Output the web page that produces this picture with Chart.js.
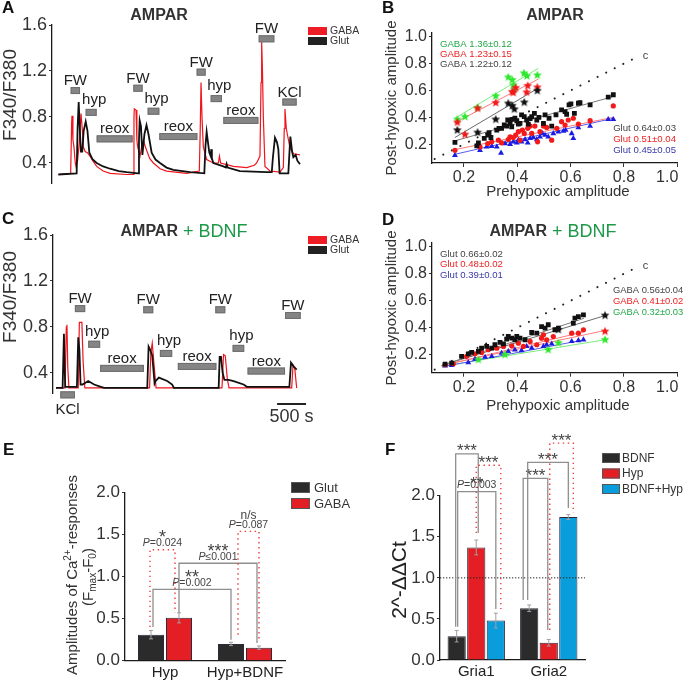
<!DOCTYPE html>
<html>
<head>
<meta charset="utf-8">
<title>AMPAR calcium responses</title>
<script src="https://cdn.jsdelivr.net/npm/chart.js"></script>
<style>
  body { margin: 0; background: #fff; }
  #fig { position: relative; width: 685px; height: 681px; overflow: hidden; }
  #fig canvas { position: absolute; }
</style>
</head>
<body>
<div id="fig">
  <canvas id="chartB" width="340" height="200" style="left:345px;top:0"></canvas>
  <canvas id="chartD" width="340" height="220" style="left:345px;top:200px"></canvas>
  <canvas id="chartF" width="340" height="251" style="left:345px;top:430px"></canvas>
  <canvas id="chartA" width="365" height="200" style="left:0;top:0"></canvas>
  <canvas id="chartC" width="365" height="230" style="left:0;top:200px"></canvas>
  <canvas id="chartE" width="365" height="251" style="left:0;top:430px"></canvas>
</div>
<script>
const FONT = "'Liberation Sans', Arial, Helvetica, sans-serif";
Chart.defaults.font.family = FONT;
Chart.defaults.color = '#333';

// ---------- A / C : Fura-2 traces, [time (s), F340/F380] ----------
const T_MAX = 4300;
const TRACE_TICKS = [0.4, 0.8, 1.2, 1.6];
const A_GLUT = [[109,0.30],[424,0.31],[440,0.70],[459,0.93],[478,0.70],[497,0.50],[520,0.50],[545,0.68],[580,0.76],[610,0.68],[642,0.49],[700,0.43],[768,0.40],[880,0.37],[998,0.35],[1150,0.33],[1284,0.32],[1480,0.31],[1496,0.60],[1508,0.77],[1530,0.72],[1555,0.47],[1590,0.65],[1625,0.73],[1660,0.65],[1714,0.49],[1780,0.43],[1858,0.40],[1970,0.36],[2087,0.34],[2374,0.32],[2620,0.31],[2640,0.55],[2660,0.67],[2690,0.55],[2706,0.49],[2730,0.46],[2740,0.52],[2750,0.44],[2775,0.40],[2947,0.37],[2990,0.36],[3004,0.39],[3020,0.36],[3233,0.33],[3692,0.32],[3780,0.32],[3800,0.45],[3835,0.62],[3870,0.58],[3893,0.52],[3915,0.31],[4065,0.31],[4085,0.50],[4100,0.63],[4130,0.50],[4151,0.45],[4191,0.47],[4220,0.42],[4265,0.39]];
const A_GABA = [[109,0.30],[321,0.31],[338,0.75],[344,0.81],[360,0.60],[378,0.54],[400,0.40],[413,0.37],[440,0.42],[470,0.58],[499,0.83],[520,0.70],[539,0.54],[570,0.50],[608,0.49],[654,0.46],[700,0.42],[768,0.37],[880,0.33],[998,0.31],[1284,0.30],[1399,0.30],[1410,0.80],[1416,0.87],[1445,0.86],[1460,0.60],[1473,0.54],[1514,0.46],[1545,0.55],[1571,0.60],[1600,0.55],[1628,0.51],[1680,0.44],[1743,0.40],[1860,0.35],[1972,0.33],[2316,0.31],[2534,0.33],[2550,0.70],[2563,1.10],[2580,0.80],[2603,0.54],[2660,0.43],[2775,0.40],[2861,0.40],[2880,0.46],[2900,0.40],[3119,0.37],[3348,0.36],[3480,0.38],[3520,0.40],[3577,0.46],[3595,1.10],[3606,1.46],[3620,1.20],[3635,0.80],[3663,0.37],[3749,0.33],[3921,0.32],[3979,0.36],[3995,0.70],[4007,0.87],[4030,0.70],[4048,0.65],[4094,0.53],[4151,0.48],[4265,0.47]];
const C_GLUT = [[52,0.27],[166,0.27],[189,0.74],[201,0.45],[212,0.28],[413,0.28],[436,0.71],[456,0.60],[476,0.30],[510,0.30],[608,0.33],[711,0.30],[826,0.28],[883,0.27],[1628,0.27],[1651,0.63],[1680,0.60],[1714,0.55],[1754,0.31],[1770,0.33],[1829,0.36],[1972,0.33],[2058,0.30],[2087,0.27],[2861,0.27],[2878,0.54],[2901,0.54],[2930,0.40],[2960,0.34],[3033,0.34],[3119,0.33],[3291,0.30],[3348,0.28],[4082,0.28],[4110,0.49],[4151,0.46],[4208,0.43]];
const C_GABA = [[52,0.27],[207,0.27],[230,0.80],[241,0.82],[255,0.45],[275,0.27],[436,0.27],[455,0.84],[499,0.84],[520,0.50],[550,0.27],[1668,0.27],[1690,0.58],[1714,0.66],[1740,0.50],[1780,0.27],[2918,0.27],[2945,0.56],[2975,0.55],[3010,0.35],[3040,0.27],[4122,0.27],[4145,0.47],[4175,0.44],[4208,0.27]];
// stimulus periods: [label, start s, end s, drawn level]
const A_STIM = [['FW',321,482,1.03],['hyp',579,768,0.84],['reox',768,1387,0.61],['FW',1399,1559,1.05],['hyp',1645,1846,0.85],['reox',1846,2500,0.63],['FW',2488,2643,1.19],['hyp',2729,2924,0.96],['reox',2947,3549,0.77],['FW',3555,3824,1.48],['KCl',3962,4208,0.93]];
const C_STIM = [['KCl',126,378,0.21],['FW',378,556,0.96],['hyp',608,814,0.65],['reox',814,1571,0.44],['FW',1559,1731,0.95],['hyp',1846,2058,0.57],['reox',2156,2821,0.457],['FW',2803,2975,0.95],['hyp',3102,3302,0.614],['reox',3360,4007,0.417],['FW',4007,4277,0.90]];
const SCALE_BAR = [3870, 500];

// ---------- B / D : post- vs prehypoxic amplitude ----------
const AMP_TICKS = [0.2, 0.4, 0.6, 0.8, 1.0];
const DIAG = [[0.09,0.09],[0.845,0.845]];
const B_GLUT_BLACK = [[0.166,0.213],[0.248,0.188],[0.254,0.210],[0.276,0.243],[0.289,0.268],[0.294,0.285],[0.301,0.250],[0.323,0.305],[0.331,0.318],[0.341,0.318],[0.351,0.343],[0.360,0.335],[0.364,0.380],[0.373,0.355],[0.379,0.330],[0.381,0.385],[0.391,0.393],[0.398,0.375],[0.404,0.350],[0.410,0.355],[0.416,0.418],[0.426,0.405],[0.435,0.380],[0.441,0.350],[0.448,0.390],[0.454,0.405],[0.464,0.430],[0.473,0.380],[0.481,0.400],[0.498,0.355],[0.504,0.418],[0.519,0.393],[0.529,0.335],[0.545,0.418],[0.566,0.455],[0.579,0.443],[0.585,0.423],[0.594,0.493],[0.601,0.500],[0.614,0.430],[0.629,0.505],[0.635,0.510],[0.673,0.493],[0.741,0.550],[0.760,0.568]];
const B_GLUT_RED = [[0.166,0.155],[0.260,0.180],[0.289,0.205],[0.304,0.218],[0.329,0.230],[0.341,0.210],[0.366,0.235],[0.373,0.255],[0.385,0.250],[0.394,0.268],[0.404,0.293],[0.410,0.230],[0.419,0.305],[0.426,0.280],[0.439,0.318],[0.448,0.335],[0.454,0.280],[0.466,0.335],[0.476,0.218],[0.485,0.293],[0.498,0.335],[0.510,0.325],[0.529,0.230],[0.548,0.318],[0.566,0.368],[0.579,0.343],[0.591,0.380],[0.610,0.393],[0.629,0.350],[0.673,0.375],[0.760,0.485]];
const B_GLUT_BLUE = [[0.166,0.118],[0.260,0.155],[0.285,0.180],[0.304,0.185],[0.323,0.180],[0.339,0.135],[0.354,0.205],[0.373,0.200],[0.385,0.218],[0.398,0.210],[0.404,0.230],[0.416,0.218],[0.429,0.235],[0.439,0.210],[0.448,0.243],[0.460,0.250],[0.473,0.235],[0.485,0.255],[0.494,0.280],[0.504,0.268],[0.516,0.255],[0.535,0.280],[0.554,0.293],[0.573,0.298],[0.581,0.305],[0.604,0.280],[0.610,0.243],[0.629,0.323],[0.673,0.335],[0.741,0.385],[0.760,0.385]];
const B_GABA_GREEN = [[0.175,0.384],[0.204,0.404],[0.251,0.471],[0.319,0.558],[0.366,0.698],[0.381,0.678],[0.385,0.640],[0.389,0.608],[0.425,0.728],[0.436,0.707],[0.475,0.713]];
const B_GABA_RED = [[0.175,0.362],[0.204,0.272],[0.251,0.466],[0.319,0.508],[0.381,0.590],[0.385,0.583],[0.394,0.620],[0.435,0.586],[0.439,0.635],[0.475,0.623]];
const B_GABA_BLACK = [[0.175,0.304],[0.251,0.287],[0.319,0.384],[0.366,0.503],[0.381,0.486],[0.389,0.460],[0.426,0.511],[0.475,0.598]];
const B_FIT_GLUT = [[[0.166,0.225],[0.76,0.555]], [[0.166,0.16],[0.76,0.40]], [[0.166,0.125],[0.76,0.393]]];
const B_FIT_GABA = [[[0.166,0.25],[0.479,0.618]], [[0.166,0.36],[0.479,0.685]], [[0.166,0.393],[0.479,0.765]]];
const B_NOTES_GABA = ['GABA 1.36±0.12', 'GABA 1.23±0.15', 'GABA 1.22±0.12'];
const B_NOTES_GLUT = ['Glut 0.64±0.03', 'Glut 0.51±0.04', 'Glut 0.45±0.05'];

const D_GLUT_BLACK = [[0.129,0.131],[0.154,0.138],[0.191,0.188],[0.216,0.207],[0.229,0.217],[0.254,0.225],[0.266,0.249],[0.285,0.262],[0.304,0.249],[0.316,0.274],[0.335,0.291],[0.348,0.281],[0.360,0.316],[0.366,0.335],[0.379,0.323],[0.391,0.311],[0.398,0.335],[0.410,0.323],[0.429,0.311],[0.454,0.365],[0.473,0.360],[0.491,0.409],[0.504,0.397],[0.516,0.422],[0.541,0.385],[0.554,0.397],[0.610,0.434],[0.616,0.471],[0.629,0.483],[0.648,0.496]];
const D_GLUT_RED = [[0.129,0.126],[0.160,0.133],[0.210,0.188],[0.241,0.207],[0.266,0.217],[0.291,0.237],[0.323,0.249],[0.348,0.262],[0.379,0.266],[0.404,0.286],[0.423,0.262],[0.448,0.299],[0.473,0.274],[0.491,0.323],[0.498,0.348],[0.510,0.311],[0.535,0.335],[0.604,0.360],[0.629,0.360],[0.648,0.385]];
const D_GLUT_BLUE = [[0.129,0.119],[0.154,0.121],[0.216,0.143],[0.241,0.168],[0.279,0.183],[0.304,0.188],[0.341,0.212],[0.366,0.225],[0.391,0.237],[0.416,0.232],[0.435,0.262],[0.454,0.249],[0.498,0.262],[0.510,0.274],[0.529,0.281],[0.604,0.299],[0.629,0.306],[0.648,0.311]];
const D_GABA_BLACK = [[0.554,0.385],[0.729,0.491]];
const D_GABA_RED = [[0.729,0.373]];
const D_GABA_GREEN = [[0.254,0.163],[0.354,0.200],[0.516,0.237],[0.554,0.287],[0.729,0.311]];
const D_FIT_GLUT = [[[0.13,0.13],[0.65,0.47]], [[0.13,0.125],[0.65,0.37]], [[0.13,0.115],[0.65,0.31]]];
const D_FIT_GABA = [[[0.116,0.121],[0.729,0.49]], [[0.116,0.121],[0.729,0.38]], [[0.116,0.114],[0.729,0.311]]];
const D_NOTES_GLUT = ['Glut 0.66±0.02', 'Glut 0.48±0.02', 'Glut 0.39±0.01'];
const D_NOTES_GABA = ['GABA 0.56±0.04', 'GABA 0.41±0.02', 'GABA 0.32±0.03'];

// ---------- E : amplitudes ----------
const E_GROUPS = ['Hyp', 'Hyp+BDNF'];
const E_GLUT = [0.31, 0.20];
const E_GLUT_ERR = [0.05, 0.02];
const E_GABA = [0.51, 0.155];
const E_GABA_ERR = [0.06, 0.02];
const BAR_TICKS = [0, 0.5, 1.0, 1.5, 2.0];
// [dataset, group, dataset, group, top, left end, right end, mark, P]
const E_BRACKETS = [
  [0, 0, 1, 0, 1.32, 0.40, 0.57, '*', '=0.024'],
  [0, 0, 0, 1, 0.85, 0.40, 0.25, '**', '=0.002'],
  [1, 0, 1, 1, 1.16, 0.57, 0.21, '***', '≤0.001'],
  [0, 1, 1, 1, 1.54, 0.31, 0.25, 'n/s', '=0.087']
];
const E_BRACKET_LOOK = [{dx: [-1, -4], dot: true}, {dx: [2, 0], dot: false}, {dx: [0, -2], dot: false}, {dx: [7, 0], dot: true}];

// ---------- F : qPCR ----------
const F_GENES = ['Gria1', 'Gria2'];
const F_BDNF = [0.29, 0.63];
const F_BDNF_ERR = [0.07, 0.04];
const F_HYP = [1.37, 0.21];
const F_HYP_ERR = [0.09, 0.04];
const F_BOTH = [0.48, 1.74];
const F_BOTH_ERR = [0.09, 0.03];
const F_BRACKETS = [
  [0, 0, 1, 0, 2.51, 0.405, 1.545, '***', ''],
  [1, 0, 2, 0, 2.37, 1.545, 0.62, '***', ''],
  [0, 0, 2, 0, 2.05, 0.405, 0.62, '**', '=0.003'],
  [0, 1, 1, 1, 2.21, 0.73, 0.365, '***', ''],
  [0, 1, 2, 1, 2.405, 0.73, 1.85, '***', ''],
  [1, 1, 2, 1, 2.64, 0.365, 1.79, '***', '']
];
const F_BRACKET_LOOK = [{dx: [-1, 2], dot: false}, {dx: [0, 5], dot: true}, {dx: [1, 0], dot: false},
                        {dx: [-6, -1], dot: false}, {dx: [-1.5, 0], dot: false}, {dx: [1, 5], dot: true}];

// ---------- helpers ----------
function text(ctx, s, x, y, size, o = {}) {
  ctx.save();
  ctx.font = (o.style || 'normal') + ' ' + (o.weight || 'normal') + ' ' + size + 'px ' + FONT;
  ctx.fillStyle = o.color || '#333';
  ctx.textAlign = o.align || 'left';
  ctx.textBaseline = o.base || 'middle';
  if (o.rot) { ctx.translate(x, y); ctx.rotate(o.rot); ctx.fillText(s, 0, 0); }
  else ctx.fillText(s, x, y);
  ctx.restore();
}
function panelLetter(ctx, s, x, y) { text(ctx, s, x, y, 17, {weight: 'bold', base: 'top', color: '#111'}); }
function box(ctx, x, y, w, h, fill, stroke) {
  ctx.fillStyle = fill; ctx.fillRect(x, y, w, h);
  if (stroke) { ctx.strokeStyle = stroke; ctx.lineWidth = 1; ctx.strokeRect(x + 0.5, y + 0.5, w - 1, h - 1); }
}
function titleBDNF(ctx, cx, y) {
  ctx.save();
  ctx.font = 'bold 16px ' + FONT; const w1 = ctx.measureText('AMPAR').width;
  ctx.font = '18px ' + FONT; const w2 = ctx.measureText(' + BDNF').width;
  ctx.restore();
  const x = cx - (w1 + w2) / 2;
  text(ctx, 'AMPAR', x, y, 16, {weight: 'bold'});
  text(ctx, ' + BDNF', x + w1, y, 18, {color: '#1c9a48'});
}
function traceLegend(ctx, x, y) {
  box(ctx, x, y, 19, 8, '#ee1c24');
  box(ctx, x, y + 10, 19, 8, '#222');
  text(ctx, 'GABA', x + 22, y + 4.5, 10.5);
  text(ctx, 'Glut', x + 22, y + 14.5, 10.5);
}
function drawStim(chart, stim) {
  const {ctx, scales: {x, y}} = chart;
  stim.forEach(([lab, t0, t1, lvl]) => {
    const x0 = x.getPixelForValue(t0), x1 = x.getPixelForValue(t1), yc = y.getPixelForValue(lvl);
    box(ctx, x0, yc - 3.5, x1 - x0, 7, '#858585', '#6e6e6e');
    const cx = (x0 + x1) / 2;
    if (lvl < y.min) text(ctx, lab, cx, yc + 8, 15, {align: 'center', base: 'top', color: '#222'});
    else if (lab === 'hyp') text(ctx, lab, cx + 3, yc - 8.5, 15, {align: 'center', base: 'alphabetic', color: '#222'});
    else text(ctx, lab, cx, yc - 5.5, 15, {align: 'center', base: 'alphabetic', color: '#222'});
  });
}
function richRotated(ctx, segs, cx, cy) {
  ctx.save();
  ctx.translate(cx, cy); ctx.rotate(-Math.PI / 2);
  let w = 0;
  segs.forEach(s => { ctx.font = s[1] + 'px ' + FONT; w += ctx.measureText(s[0]).width; });
  let x = -w / 2;
  ctx.fillStyle = '#333'; ctx.textBaseline = 'middle';
  segs.forEach(s => { ctx.font = s[1] + 'px ' + FONT; ctx.fillText(s[0], x, s[2]); x += ctx.measureText(s[0]).width; });
  ctx.restore();
}
function pLabel(ctx, rest, cx, y) {
  ctx.save();
  ctx.font = 'italic 10.5px ' + FONT; const wp = ctx.measureText('P').width;
  ctx.font = '10.5px ' + FONT; const wr = ctx.measureText(rest).width;
  const x = cx - (wp + wr) / 2;
  ctx.fillStyle = '#444'; ctx.textBaseline = 'alphabetic';
  ctx.font = 'italic 10.5px ' + FONT; ctx.fillText('P', x, y);
  ctx.font = '10.5px ' + FONT; ctx.fillText(rest, x + wp, y);
  ctx.restore();
}
function drawErrors(chart, errs) {
  const {ctx} = chart, y = chart.scales.y;
  ctx.save(); ctx.strokeStyle = '#a0a0a0'; ctx.lineWidth = 1;
  errs.forEach((err, di) => {
    chart.getDatasetMeta(di).data.forEach((bar, i) => {
      const v = chart.data.datasets[di].data[i];
      const yt = y.getPixelForValue(v + err[i]), yb = y.getPixelForValue(v - err[i]);
      ctx.beginPath();
      ctx.moveTo(bar.x, yt); ctx.lineTo(bar.x, yb);
      ctx.moveTo(bar.x - 2, yt); ctx.lineTo(bar.x + 2, yt);
      ctx.moveTo(bar.x - 2, yb); ctx.lineTo(bar.x + 2, yb);
      ctx.stroke();
    });
  });
  ctx.restore();
}
function drawBrackets(chart, list, looks, st) {
  const {ctx} = chart, y = chart.scales.y;
  list.forEach((b, k) => {
    const [d0, c0, d1, c1, top, e0, e1, mark, p] = b, look = looks[k];
    const x0 = chart.getDatasetMeta(d0).data[c0].x + look.dx[0];
    const x1 = chart.getDatasetMeta(d1).data[c1].x + look.dx[1];
    const yt = y.getPixelForValue(top);
    ctx.save();
    if (look.dot) { ctx.strokeStyle = '#f23a3a'; ctx.lineWidth = 1.4; ctx.setLineDash([1.4, 3.6]); }
    else { ctx.strokeStyle = '#8f8f8f'; ctx.lineWidth = 1.3; }
    ctx.beginPath();
    ctx.moveTo(x0, y.getPixelForValue(e0)); ctx.lineTo(x0, yt);
    ctx.lineTo(x1, yt); ctx.lineTo(x1, y.getPixelForValue(e1));
    ctx.stroke();
    ctx.restore();
    const cx = (x0 + x1) / 2;
    if (p) {
      pLabel(ctx, p, cx, yt - 3.5);
      if (mark === 'n/s') text(ctx, mark, cx, yt - 12, 12, {align: 'center', base: 'alphabetic', color: '#444'});
      else text(ctx, mark, cx, yt - st.liftP, st.size, {align: 'center', base: 'alphabetic', color: '#444'});
    } else {
      text(ctx, mark, cx, yt + st.liftNoP, st.size, {align: 'center', base: 'alphabetic', color: '#444'});
    }
  });
}
function starImg(color, r) {
  const c = document.createElement('canvas');
  const s = Math.ceil(r * 2 + 2);
  c.width = c.height = s;
  const g = c.getContext('2d');
  g.beginPath();
  for (let i = 0; i < 10; i++) {
    const a = -Math.PI / 2 + i * Math.PI / 5, rr = i % 2 ? r * 0.45 : r;
    g.lineTo(s / 2 + rr * Math.cos(a), s / 2 + rr * Math.sin(a));
  }
  g.closePath(); g.fillStyle = color; g.fill();
  return c;
}
const pts = arr => arr.map(p => ({x: p[0], y: p[1]}));

function yAxis(min, max, ticks, width, size) {
  return {
    type: 'linear', position: 'left', min, max,
    afterBuildTicks: s => { s.ticks = ticks.map(v => ({value: v})); },
    afterFit: s => { s.width = width; s.paddingTop = 0; s.paddingBottom = 0; },
    ticks: {font: {size}, color: '#333', padding: 2, autoSkip: false, callback: v => Number(v).toFixed(1)},
    grid: {drawOnChartArea: false, tickLength: 3, color: '#333'},
    border: {color: '#1a1a1a', width: 1.3}
  };
}
function xAxis(min, max, ticks, height, size) {
  return {
    type: 'linear', position: 'bottom', min, max,
    afterBuildTicks: s => { s.ticks = ticks.map(v => ({value: v})); },
    afterFit: s => { s.height = height; s.paddingLeft = 0; s.paddingRight = 0; },
    ticks: {font: {size}, color: '#333', padding: 1, autoSkip: false, maxRotation: 0, callback: v => Number(v).toFixed(1)},
    grid: {drawOnChartArea: false, tickLength: 4, color: '#333'},
    border: {color: '#1a1a1a', width: 1.3}
  };
}
const lastTickRight = {
  id: 'lastTickRight',
  beforeDraw(chart) {
    try {
      const sx = chart.scales.x, items = sx.getLabelItems();
      const it = items[items.length - 1];
      it.options.textAlign = 'right';
      it.options.translation[0] = sx.right + 1;
    } catch (e) {}
  }
};

// ---------- A / C ----------
function traceChart(id, glut, gaba, pad, yWidth, deco) {
  return new Chart(document.getElementById(id), {
    type: 'line',
    data: {datasets: [
      {label: 'Glut', data: pts(glut), borderColor: '#111', borderWidth: 1.8},
      {label: 'GABA', data: pts(gaba), borderColor: '#f0141c', borderWidth: 1.2}
    ]},
    options: {
      responsive: false, animation: false,
      layout: {padding: pad},
      elements: {point: {radius: 0}, line: {tension: 0}},
      plugins: {legend: {display: false}, tooltip: {enabled: false}},
      scales: {
        x: {type: 'linear', min: 0, max: T_MAX, display: false},
        y: yAxis(0.226, 1.6, TRACE_TICKS, yWidth, 18)
      }
    },
    plugins: [{id: 'deco', afterDraw: deco}]
  });
}

traceChart('chartA', A_GLUT, A_GABA, {left: 0, top: 25, right: 63, bottom: 17}, 52, chart => {
  const ctx = chart.ctx;
  panelLetter(ctx, 'A', 2, 0);
  text(ctx, 'AMPAR', 159, 16, 16, {weight: 'bold', align: 'center'});
  traceLegend(ctx, 308, 27);
  text(ctx, 'F340/F380', 11, 95, 19, {rot: -Math.PI / 2, align: 'center'});
  drawStim(chart, A_STIM);
});

traceChart('chartC', C_GLUT, C_GABA, {left: 0, top: 35, right: 63, bottom: 37}, 53, chart => {
  const ctx = chart.ctx, x = chart.scales.x;
  panelLetter(ctx, 'C', 2, 11);
  titleBDNF(ctx, 184, 32);
  traceLegend(ctx, 308, 36);
  text(ctx, 'F340/F380', 11, 97, 19, {rot: -Math.PI / 2, align: 'center'});
  drawStim(chart, C_STIM);
  const x0 = x.getPixelForValue(SCALE_BAR[0]), x1 = x.getPixelForValue(SCALE_BAR[0] + SCALE_BAR[1]);
  ctx.save(); ctx.strokeStyle = '#222'; ctx.lineWidth = 2;
  ctx.beginPath(); ctx.moveTo(x0, 204); ctx.lineTo(x1, 204); ctx.stroke(); ctx.restore();
  text(ctx, SCALE_BAR[1] + ' s', (x0 + x1) / 2, 217, 18, {align: 'center'});
});

// ---------- B / D ----------
const GREEN = '#2ee82e', RED = '#f21a1a', BLUE = '#1c1ce0', BLACK = '#111';
function scatterChart(id, glut, gaba, fitsGlut, fitsGaba, pad, yMin, xHeight, deco) {
  const [gBlack, gRed, gBlue] = glut, [aBlack, aRed, aGreen] = gaba;
  const sc = (arr, style, color, r) => ({data: pts(arr), pointStyle: style, pointRadius: r, backgroundColor: color, borderWidth: 0});
  const fit = (arr, color) => ({data: pts(arr), showLine: true, borderColor: color, borderWidth: 1, pointRadius: 0});
  return new Chart(document.getElementById(id), {
    type: 'scatter',
    data: {datasets: [
      sc(aBlack, starImg(BLACK, 4.6), BLACK, 4),
      sc(aRed, starImg(RED, 4.6), RED, 4),
      sc(aGreen, starImg(GREEN, 4.6), GREEN, 4),
      sc(gBlack, 'rect', BLACK, 3.4),
      sc(gRed, 'circle', RED, 2.6),
      sc(gBlue, 'triangle', BLUE, 3.4),
      fit(fitsGlut[0], '#7a7a7a'), fit(fitsGlut[1], '#ff7a7a'), fit(fitsGlut[2], '#5a5af0'),
      fit(fitsGaba[0], '#6a6a6a'), fit(fitsGaba[1], '#ff7a7a'), fit(fitsGaba[2], '#7aee7a'),
      {data: pts(DIAG), showLine: true, borderColor: '#222', borderWidth: 2, borderDash: [0.1, 9.5], borderCapStyle: 'round', pointRadius: 0}
    ]},
    options: {
      responsive: false, animation: false,
      layout: {padding: pad},
      plugins: {legend: {display: false}, tooltip: {enabled: false}},
      scales: {
        x: xAxis(0.08, 1.0, AMP_TICKS, xHeight, 16),
        y: yAxis(yMin, 1.03, AMP_TICKS, 87, 16)
      }
    },
    plugins: [lastTickRight, {id: 'deco', afterDraw: deco}]
  });
}
function diagLabel(chart) {
  const {scales: {x, y}} = chart;
  text(chart.ctx, 'c', x.getPixelForValue(0.87), y.getPixelForValue(0.86), 11, {color: '#444'});
}

scatterChart('chartB', [B_GLUT_BLACK, B_GLUT_RED, B_GLUT_BLUE], [B_GABA_BLACK, B_GABA_RED, B_GABA_GREEN],
  B_FIT_GLUT, B_FIT_GABA, {left: 0, top: 32.7, right: 7.7, bottom: 0}, 0.06, 37, chart => {
  const ctx = chart.ctx;
  panelLetter(ctx, 'B', 37, 0);
  text(ctx, 'AMPAR', 210, 16, 16, {weight: 'bold', align: 'center'});
  text(ctx, 'Post-hypoxic amplitude', 47, 98, 15, {rot: -Math.PI / 2, align: 'center'});
  text(ctx, 'Prehypoxic amplitude', 213, 192, 15, {align: 'center'});
  const gabaCol = ['#22a84a', '#ee2222', '#444'];
  B_NOTES_GABA.forEach((s, i) => text(ctx, s, 95, 44 + i * 10.2, 9.6, {color: gabaCol[i]}));
  const glutCol = ['#444', '#ee2222', '#3838a8'];
  B_NOTES_GLUT.forEach((s, i) => text(ctx, s, 331, 128.5 + i * 10.7, 9.6, {color: glutCol[i], align: 'right'}));
  diagLabel(chart);
});

scatterChart('chartD', [D_GLUT_BLACK, D_GLUT_RED, D_GLUT_BLUE], [D_GABA_BLACK, D_GABA_RED, D_GABA_GREEN],
  D_FIT_GLUT, D_FIT_GABA, {left: 0, top: 42.7, right: 7.7, bottom: 20}, 0.067, 27.3, chart => {
  const ctx = chart.ctx;
  panelLetter(ctx, 'D', 37, 12);
  titleBDNF(ctx, 208, 32);
  text(ctx, 'Post-hypoxic amplitude', 47, 108, 15, {rot: -Math.PI / 2, align: 'center'});
  text(ctx, 'Prehypoxic amplitude', 213, 206, 15, {align: 'center'});
  const glutCol = ['#444', '#ee2222', '#3838a8'];
  D_NOTES_GLUT.forEach((s, i) => text(ctx, s, 95, 54 + i * 10.5, 9.6, {color: glutCol[i]}));
  const gabaCol = ['#444', '#ee2222', '#22a84a'];
  D_NOTES_GABA.forEach((s, i) => text(ctx, s, 268, 90 + i * 11, 9.4, {color: gabaCol[i]}));
  diagLabel(chart);
});

// ---------- E / F ----------
function catAxis(height) {
  return {
    type: 'category', position: 'bottom',
    afterFit: s => { s.height = height; s.paddingLeft = 0; s.paddingRight = 0; },
    ticks: {font: {size: 15}, color: '#222', padding: 3, maxRotation: 0, autoSkip: false},
    grid: {display: false, drawTicks: false},
    border: {display: true, color: '#1a1a1a', width: 1.3}
  };
}
const barSet = (label, data, color, catPct) => ({
  label, data, backgroundColor: color, borderColor: '#2a2a3a', borderWidth: 1,
  categoryPercentage: catPct, barPercentage: 0.93
});

new Chart(document.getElementById('chartE'), {
  type: 'bar',
  data: {labels: E_GROUPS, datasets: [barSet('Glut', E_GLUT, '#2b2b2b', 0.7), barSet('GABA', E_GABA, '#e31e24', 0.7)]},
  options: {
    responsive: false, animation: false,
    layout: {padding: {left: 0, top: 62.7, right: 80, bottom: 0}},
    plugins: {legend: {display: false}, tooltip: {enabled: false}},
    scales: {x: catAxis(20.3), y: yAxis(0, 2, BAR_TICKS, 125, 17)}
  },
  plugins: [{id: 'deco', afterDraw(chart) {
    const ctx = chart.ctx;
    panelLetter(ctx, 'E', 3, 12);
    drawErrors(chart, [E_GLUT_ERR, E_GABA_ERR]);
    drawBrackets(chart, E_BRACKETS, E_BRACKET_LOOK, {size: 18, liftP: 6.5, liftNoP: 2});
    box(ctx, 291, 52, 19, 11, '#2b2b2b', '#555');
    box(ctx, 291, 68, 19, 11, '#e31e24', '#555');
    text(ctx, 'Glut', 314, 58, 13);
    text(ctx, 'GABA', 314, 74, 13);
    richRotated(ctx, [['Amplitudes of Ca', 15, 0], ['2+', 10, -5], ['-responses', 15, 0]], 73, 145);
    richRotated(ctx, [['(F', 15, 0], ['max', 10, 4], ['-F', 15, 0], ['0', 10, 4], [')', 15, 0]], 89, 147);
  }}]
});

new Chart(document.getElementById('chartF'), {
  type: 'bar',
  data: {labels: F_GENES, datasets: [
    barSet('BDNF', F_BDNF, '#2b2b2b', 0.81),
    barSet('Hyp', F_HYP, '#e31e24', 0.81),
    barSet('BDNF+Hyp', F_BOTH, '#0a9ddc', 0.81)
  ]},
  options: {
    responsive: false, animation: false,
    layout: {padding: {left: 0, top: 65.7, right: 100, bottom: 0}},
    plugins: {legend: {display: false}, tooltip: {enabled: false}},
    scales: {x: catAxis(21), y: yAxis(0, 2, BAR_TICKS, 95, 17)}
  },
  plugins: [{id: 'deco', afterDraw(chart) {
    const {ctx, chartArea: a, scales: {y}} = chart;
    panelLetter(ctx, 'F', 40, 12);
    const y1 = y.getPixelForValue(1.0);
    ctx.save(); ctx.strokeStyle = '#222'; ctx.lineWidth = 1; ctx.setLineDash([1.3, 1.7]);
    ctx.beginPath(); ctx.moveTo(a.left, y1); ctx.lineTo(a.right, y1); ctx.stroke(); ctx.restore();
    drawErrors(chart, [F_BDNF_ERR, F_HYP_ERR, F_BOTH_ERR]);
    drawBrackets(chart, F_BRACKETS, F_BRACKET_LOOK, {size: 17, liftP: 2.5, liftNoP: 2.5});
    const names = ['BDNF', 'Hyp', 'BDNF+Hyp'], cols = ['#2b2b2b', '#e31e24', '#0a9ddc'];
    names.forEach((n, i) => {
      box(ctx, 257, 23 + i * 15.5, 18, 10, cols[i], '#555');
      text(ctx, n, 277, 28.5 + i * 15.5, 12);
    });
    text(ctx, '2^-ΔΔCt', 55, 150, 21, {rot: -Math.PI / 2, align: 'center', color: '#222'});
  }}]
});
</script>
</body>
</html>
